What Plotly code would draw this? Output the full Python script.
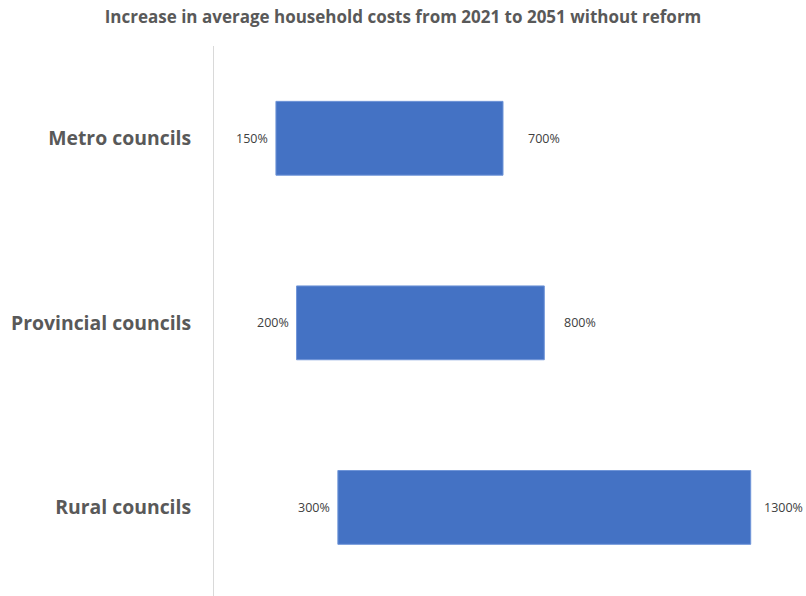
import plotly.graph_objects as go

categories = ["Metro councils", "Provincial councils", "Rural councils"]
low_values = [150, 200, 300]
high_values = [700, 800, 1300]
low_labels = ["150%", "200%", "300%"]
high_labels = ["700%", "800%", "1300%"]

BAR = "#4472C4"
GREY = "#595959"
FONT = "Open Sans"

ypos = list(range(len(categories)))

fig = go.Figure()
fig.add_trace(go.Bar(
    y=ypos,
    x=[h - l for h, l in zip(high_values, low_values)],
    base=low_values,
    orientation="h",
    width=0.4,
    marker=dict(color=BAR, line=dict(color="#6f95d8", width=1)),
    hoverinfo="skip",
    showlegend=False,
))

right_shift = [23, 18, 11]
for i, (lo, hi, lt, ht) in enumerate(zip(low_values, high_values, low_labels, high_labels)):
    fig.add_annotation(x=lo, y=ypos[i], text=lt, showarrow=False,
                       xanchor="right", xshift=-6, xref="x", yref="y",
                       font=dict(family=FONT, size=12.5, color="#404040"))
    fig.add_annotation(x=hi, y=ypos[i], text=ht, showarrow=False,
                       xanchor="left", xshift=right_shift[i], xref="x", yref="y",
                       font=dict(family=FONT, size=12.5, color="#404040"))

fig.update_layout(
    width=806, height=596,
    margin=dict(l=214, r=14, t=46, b=0),
    paper_bgcolor="white", plot_bgcolor="white",
    title=dict(text="<b>Increase in average household costs from 2021 to 2051 without reform</b>",
               x=0.5, xref="container", y=1 - 17 / 596, yref="container",
               xanchor="center", yanchor="middle",
               font=dict(family=FONT, size=17, color=GREY)),
    xaxis=dict(range=[0, 1400], visible=False, fixedrange=True),
    yaxis=dict(range=[2.48, -0.5], tickmode="array", tickvals=ypos,
               ticktext=["<b>%s</b>" % c for c in categories],
               tickfont=dict(family=FONT, size=19.4, color=GREY),
               showgrid=False, zeroline=False, showline=True, linecolor="#d9d9d9", linewidth=1,
               ticks="", ticklabelstandoff=18, fixedrange=True),
)

fig.write_html("out.html", config={"displayModeBar": False},
               post_script="document.body.style.margin='0';document.body.style.padding='0';")
